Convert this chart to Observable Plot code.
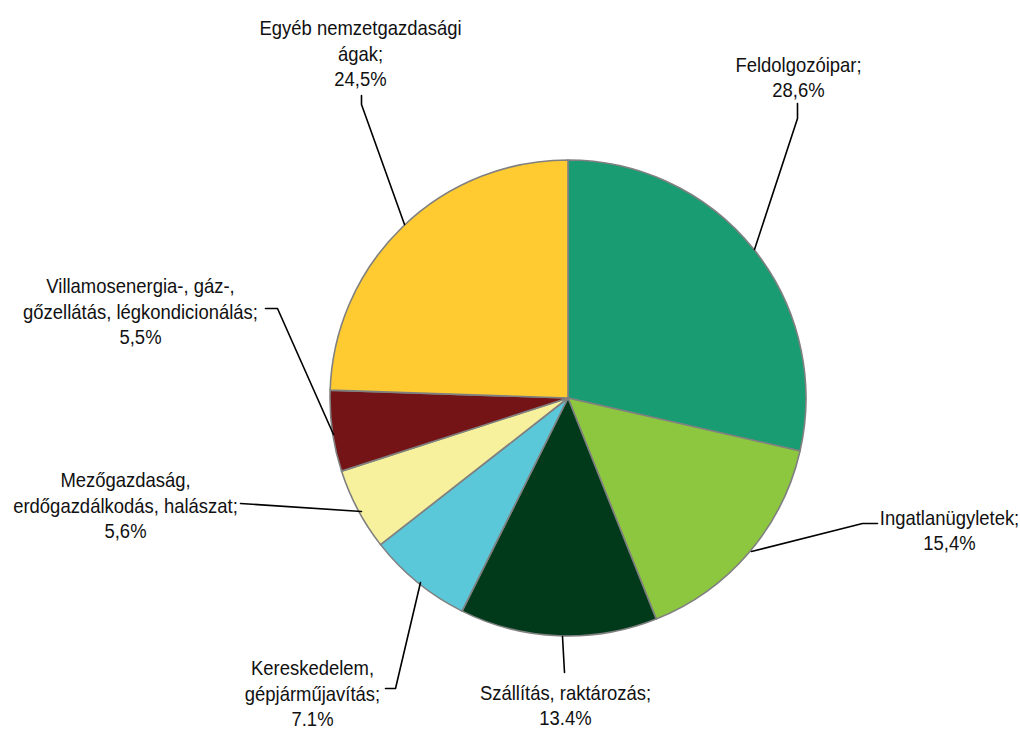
<!DOCTYPE html>
<html><head><meta charset="utf-8">
<script src="https://cdn.jsdelivr.net/npm/d3@7"></script>
<script src="https://cdn.jsdelivr.net/npm/@observablehq/plot@0.6"></script>
<style>body{margin:0;background:#fff}</style>
</head><body><div id="chart"></div>
<script>
// Data
const categories = ["Feldolgozóipar", "Ingatlanügyletek", "Szállítás, raktározás", "Kereskedelem, gépjárműjavítás", "Mezőgazdaság, erdőgazdálkodás, halászat", "Villamosenergia-, gáz-, gőzellátás, légkondicionálás", "Egyéb nemzetgazdasági ágak"];
const shares = [28.6, 15.4, 13.4, 7.1, 5.6, 5.5, 24.5];
const labelTexts = [
  "Feldolgozóipar;\n28,6%",
  "Ingatlanügyletek;\n15,4%",
  "Szállítás, raktározás;\n13.4%",
  "Kereskedelem,\ngépjárműjavítás;\n7.1%",
  "Mezőgazdaság,\nerdőgazdálkodás, halászat;\n5,6%",
  "Villamosenergia-, gáz-,\ngőzellátás, légkondicionálás;\n5,5%",
  "Egyéb nemzetgazdasági\nágak;\n24,5%"
];
const colors = ["#1a9c73", "#8dc63f", "#003a1a", "#5bc8d9", "#f7f09c", "#751416", "#ffcb31"];

// Layout (pixel-space positions of labels and leader lines)
const pieCenter = {x: 568, y: 398, r: 238};
const labelPos = [[798, 76], [949, 529], [565, 704], [312, 692], [125, 504], [140, 310], [360, 52]];
const leaders = [
  [[754, 249], [797, 118], [797, 103]],
  [[751, 551], [862, 523], [877, 523]],
  [[562, 636], [564, 672]],
  [[420, 582], [395, 688], [385, 688]],
  [[361, 511], [240, 503]],
  [[333, 434], [277, 308], [265, 308]],
  [[404, 224], [361, 104], [361, 95]]
];

const labelData = categories.map((c, i) => ({cat: c, text: labelTexts[i], x: labelPos[i][0], y: labelPos[i][1]}));
const leaderData = leaders.flatMap((pts, i) => pts.map(([x, y]) => ({cat: categories[i], x, y})));
const pieData = categories.map((c, i) => ({cat: c, value: shares[i], color: colors[i]}));

function pieMark(...args) {
  const scales = args.find(a => a && typeof a.x === "function" && typeof a.y === "function");
  const cx = scales.x(pieCenter.x), cy = scales.y(pieCenter.y);
  const r = scales.x(pieCenter.x + pieCenter.r) - cx;
  const arcs = d3.pie().sort(null).value(d => d.value)(pieData);
  const arc = d3.arc().innerRadius(0).outerRadius(r);
  const g = d3.create("svg:g").attr("transform", `translate(${cx},${cy})`);
  g.selectAll("path").data(arcs).join("path")
    .attr("d", arc)
    .attr("fill", d => d.data.color)
    .attr("stroke", "#808080")
    .attr("stroke-width", 1.6)
    .attr("stroke-linejoin", "round");
  return g.node();
}

const fontSize = 20.5;
const chart = Plot.plot({
  width: 1020,
  height: 729,
  margin: 0,
  x: {domain: [0, 1020], range: [0, 1020], axis: null},
  y: {domain: [0, 729], range: [0, 729], axis: null},
  style: {fontFamily: "'Liberation Sans Narrow', 'Arial Narrow', 'Liberation Sans', Arial, sans-serif", background: "#fff"},
  marks: [
    pieMark,
    Plot.line(leaderData, {x: "x", y: "y", z: "cat", stroke: "#000", strokeWidth: 1.6, curve: "linear"}),
    Plot.text(labelData, {x: "x", y: "y", text: "text", fontSize, lineHeight: 25.5 / fontSize, fill: "#111", textAnchor: "middle", lineAnchor: "middle"})
  ]
});
// condense label glyphs horizontally to mimic a narrow face
d3.select(chart).selectAll("g[aria-label=text] text").attr("transform", function () {
  return (this.getAttribute("transform") || "") + " scale(0.9,1)";
});
document.getElementById("chart").appendChild(chart);
</script>
</body></html>
